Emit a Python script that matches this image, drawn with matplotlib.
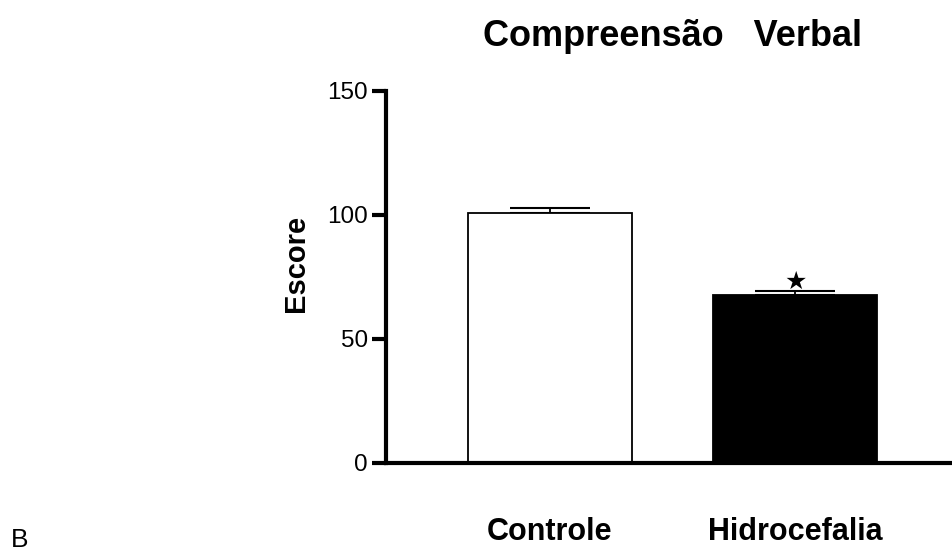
import numpy as np
import matplotlib
matplotlib.use('Agg')
import matplotlib.pyplot as plt

plt.rcParams['font.family'] = ['Liberation Sans', 'DejaVu Sans']

groups = ['Controle', 'Hidrocefalia']
means = [100.8, 67.7]
errs = [2.0, 1.7]
colors = ['white', 'black']
yticks = [0, 50, 100, 150]

fig = plt.figure(figsize=(9.52, 5.55), dpi=100)
ax = fig.add_axes([0.4055, 0.1658, 0.6, 0.6703])

x = np.arange(len(groups))
ax.bar(x, means, width=0.667, color=colors, edgecolor='black', linewidth=1.3, zorder=2)
# error bars only upward
ax.errorbar(x, means, yerr=[np.zeros(len(errs)), errs], fmt='none', ecolor='black',
            elinewidth=1.3, capsize=29, capthick=1.5, zorder=1)
ax.text(x[1], means[1] + errs[1] + 3.5, '\u2605', ha='center', va='center',
        fontsize=18, family=['DejaVu Sans'])

ax.set_xlim(-0.667, 1.66)
ax.set_ylim(0, 150)
ax.set_yticks(yticks)
ax.set_xticks(x)
ax.set_xticklabels(groups, fontsize=22, fontweight='bold')
ax.tick_params(axis='x', length=0, pad=39)
ax.tick_params(axis='y', length=10, width=3, labelsize=17.5, pad=3)

for s in ['top', 'right']:
    ax.spines[s].set_visible(False)
for s in ['left', 'bottom']:
    ax.spines[s].set_linewidth(3)

fig.text(296 / 952, 1 - 263 / 555, 'Escore', rotation=90, ha='center', va='center',
         fontsize=21, fontweight='bold')
fig.text(0.706, 0.918, 'Compreens\u00e3o   Verbal', ha='center', va='baseline',
         fontsize=26, fontweight='bold')
fig.text(0.011, 0.014, 'B', fontsize=19, ha='left', va='baseline')

fig.savefig('out.png', dpi=100)
